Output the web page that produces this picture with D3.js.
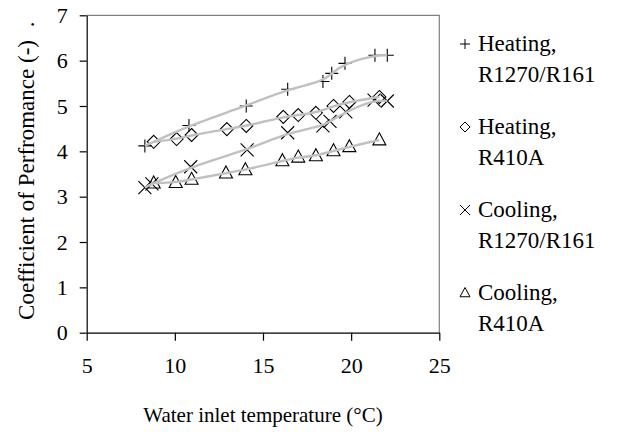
<!DOCTYPE html>
<html lang="en">
<head>
<meta charset="UTF-8">
<title>COP vs water inlet temperature</title>
<script src="https://d3js.org/d3.v7.min.js"></script>
<style>
  body { margin: 0; background: #fff; }
</style>
</head>
<body>
<script>
// data
const xTicks = [5, 10, 15, 20, 25];
const yTicks = [0, 1, 2, 3, 4, 5, 6, 7];

const heatR1270X = [8.3, 10.8, 14.05, 16.4, 18.4, 18.9, 19.65, 21.35, 22.05];
const heatR1270Y = [4.12, 4.57, 5.0, 5.37, 5.54, 5.72, 5.94, 6.12, 6.12];

const heatR410X = [8.8, 10.1, 10.95, 12.95, 14.05, 16.15, 17.0, 18.0, 19.0, 19.9, 21.6];
const heatR410Y = [4.21, 4.27, 4.36, 4.49, 4.56, 4.76, 4.8, 4.85, 5.0, 5.09, 5.2];

const coolR1270X = [8.3, 8.7, 10.9, 14.1, 16.4, 18.4, 18.8, 19.7, 21.3, 22.05];
const coolR1270Y = [3.2, 3.28, 3.66, 4.03, 4.41, 4.56, 4.66, 4.87, 5.13, 5.11];

const coolR410X = [8.8, 10.05, 10.95, 12.9, 14.0, 16.1, 17.0, 18.0, 19.0, 19.9, 21.6];
const coolR410Y = [3.3, 3.31, 3.38, 3.52, 3.59, 3.79, 3.87, 3.9, 4.01, 4.1, 4.25];

const seriesNames = [["Heating,", "R1270/R161"], ["Heating,", "R410A"], ["Cooling,", "R1270/R161"], ["Cooling,", "R410A"]];

const width = 644, height = 432;
const margin = { left: 86.7, right: 204.7, top: 15.3, bottom: 99.3 };
const serif = "Liberation Serif";

const svg = d3.select("body").append("svg")
  .attr("width", width)
  .attr("height", height);

const x = d3.scaleLinear().domain([5, 25]).range([margin.left, width - margin.right]);
const y = d3.scaleLinear().domain([0, 7]).range([height - margin.bottom, margin.top]);

// marker shapes (outline only)
function marker(kind, s) {
  if (kind === "plus") return `M${-s},0H${s}M0,${-s}V${s}`;
  if (kind === "diamond") return `M0,${-s}L${s},0L0,${s}L${-s},0Z`;
  if (kind === "cross") return `M${-s},${-s}L${s},${s}M${-s},${s}L${s},${-s}`;
  return `M0,${-s * 1.1}L${s},${s * 0.75}L${-s},${s * 0.75}Z`;
}

const series = [
  { kind: "plus", xs: heatR1270X, ys: heatR1270Y },
  { kind: "diamond", xs: heatR410X, ys: heatR410Y },
  { kind: "cross", xs: coolR1270X, ys: coolR1270Y },
  { kind: "triangle", xs: coolR410X, ys: coolR410Y }
].map((s, i) => ({ ...s, name: seriesNames[i], pts: s.xs.map((v, j) => [v, s.ys[j]]) }));

// top/right frame
svg.append("path")
  .attr("d", `M${x(5)},${y(7)}H${x(25)}V${y(0)}`)
  .attr("fill", "none")
  .attr("stroke", "#808080")
  .attr("stroke-width", 1.2);

// axes
const xAxis = svg.append("g")
  .attr("transform", `translate(0,${y(0)})`)
  .call(d3.axisBottom(x).tickValues(xTicks).tickSizeInner(8).tickSizeOuter(0).tickPadding(17));
const yAxis = svg.append("g")
  .attr("transform", `translate(${x(5)},0)`)
  .call(d3.axisLeft(y).tickValues(yTicks).tickFormat(d3.format("d")).tickSizeInner(7).tickSizeOuter(0).tickPadding(12));

[xAxis, yAxis].forEach(g => {
  g.attr("font-family", serif);
  g.select(".domain").attr("stroke", "#000").attr("stroke-width", 1.2);
  g.selectAll(".tick line").attr("stroke", "#000").attr("stroke-width", 1.2);
  g.selectAll(".tick text")
    .style("font-family", serif)
    .style("font-size", "22px")
    .attr("fill", "#000");
});

// markers
series.forEach(s => {
  svg.append("g").selectAll("path")
    .data(s.pts)
    .join("path")
    .attr("transform", d => `translate(${x(d[0])},${y(d[1])})`)
    .attr("d", marker(s.kind, 6.5))
    .attr("fill", "none")
    .attr("stroke", "#000")
    .attr("stroke-width", 1.1);
});

// gray trend lines
const line = d3.line().x(d => x(d[0])).y(d => y(d[1])).curve(d3.curveBasis);
series.forEach(s => {
  svg.append("path")
    .datum(s.pts.slice().sort((a, b) => a[0] - b[0]))
    .attr("d", line)
    .attr("fill", "none")
    .attr("stroke", "#c0c0c0")
    .attr("stroke-width", 2.4);
});

// axis titles
svg.append("text")
  .attr("x", (x(5) + x(25)) / 2)
  .attr("y", 422)
  .attr("text-anchor", "middle")
  .style("font-family", serif)
  .style("font-size", "21px")
  .text("Water inlet temperature (°C)");

svg.append("text")
  .attr("transform", `translate(34,${(y(0) + y(7)) / 2 + 6}) rotate(-90)`)
  .attr("text-anchor", "middle")
  .style("font-family", serif)
  .style("font-size", "23px")
  .text("Coefficient of Perfromance (-)");
svg.append("text")
  .attr("transform", `translate(34,${y(7) + 12}) rotate(-90)`)
  .style("font-family", serif)
  .style("font-size", "23px")
  .text(".");

// legend
const legend = svg.append("g");
series.forEach((s, i) => {
  const cy = 44 + i * 83;
  legend.append("path")
    .attr("transform", `translate(465,${cy})`)
    .attr("d", marker(s.kind, 5))
    .attr("fill", "none")
    .attr("stroke", "#000")
    .attr("stroke-width", 1);
  [s.name[0], s.name[1]].forEach((t, k) => {
    legend.append("text")
      .attr("x", 478)
      .attr("y", cy + 7 + k * 31)
      .style("font-family", serif)
      .style("font-size", "23px")
      .text(t);
  });
});
</script>
</body>
</html>
